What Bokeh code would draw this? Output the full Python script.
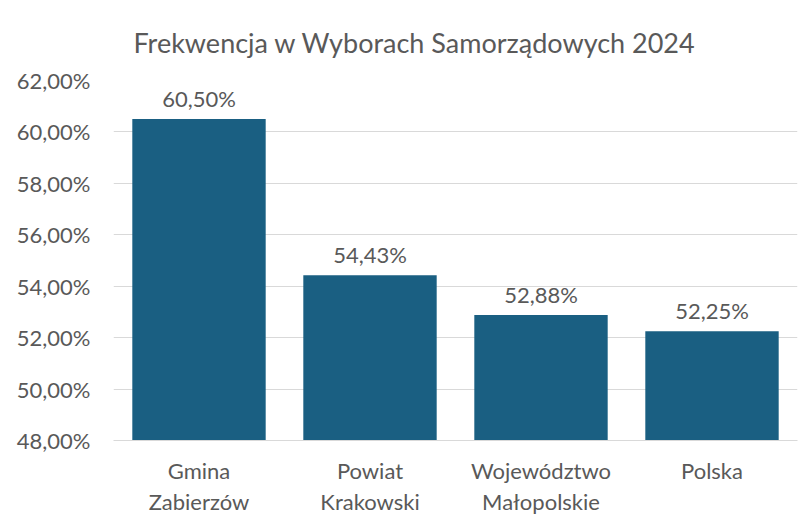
from bokeh.plotting import figure
from bokeh.models import ColumnDataSource, FixedTicker
from bokeh.core.properties import value
from bokeh.embed import file_html
from bokeh.resources import INLINE

categories = ["Gmina\nZabierzów", "Powiat\nKrakowski", "Województwo\nMałopolskie", "Polska"]
turnout = [60.50, 54.43, 52.88, 52.25]
y_ticks = [48, 50, 52, 54, 56, 58, 60, 62]

FONT = "Lato"
TXT = "#595959"
BAR = "#1a5f82"
GRID = "#d9d9d9"

labels = [("%.2f%%" % v).replace(".", ",") for v in turnout]
src = ColumnDataSource(dict(cat=categories, val=turnout, lab=labels))

p = figure(width=806, height=519, x_range=categories, y_range=(48, 62),
           output_backend="svg", toolbar_location=None,
           min_border_left=113, min_border_right=9, min_border_top=80, min_border_bottom=79)

p.title.text = "Frekwencja w Wyborach Samorządowych 2024"
p.title.text_font = FONT
p.title.text_font_style = "normal"
p.title.text_font_size = "27px"
p.title.text_color = TXT
p.title.align = "left"
p.title.offset = 20
p.title.standoff = 44

p.vbar(x="cat", top="val", bottom=48, width=0.78, source=src, fill_color=BAR, line_color=None)
p.text(x="cat", y="val", text="lab", source=src, text_align="center", text_baseline="bottom",
       y_offset=-7, text_font=value(FONT), text_font_size="22px", text_color=TXT)

p.outline_line_color = None
p.xgrid.grid_line_color = None
p.ygrid.grid_line_color = GRID
p.ygrid.grid_line_width = 1

p.yaxis.ticker = FixedTicker(ticks=y_ticks)
p.yaxis.major_label_overrides = {t: ("%.2f%%" % t).replace(".", ",") for t in y_ticks}
for ax in (p.xaxis, p.yaxis):
    ax.major_label_text_font = FONT
    ax.major_label_text_color = TXT
    ax.major_tick_line_color = None
    ax.minor_tick_line_color = None
p.yaxis.major_label_text_font_size = "22px"
p.xaxis.major_label_text_font_size = "22px"
p.yaxis.axis_line_color = None
p.yaxis.major_label_standoff = 17
p.xaxis.axis_line_color = GRID
p.xaxis.major_label_standoff = 10
p.xaxis.major_label_text_line_height = 1.15

open("out.html", "w").write(file_html(p, INLINE))
